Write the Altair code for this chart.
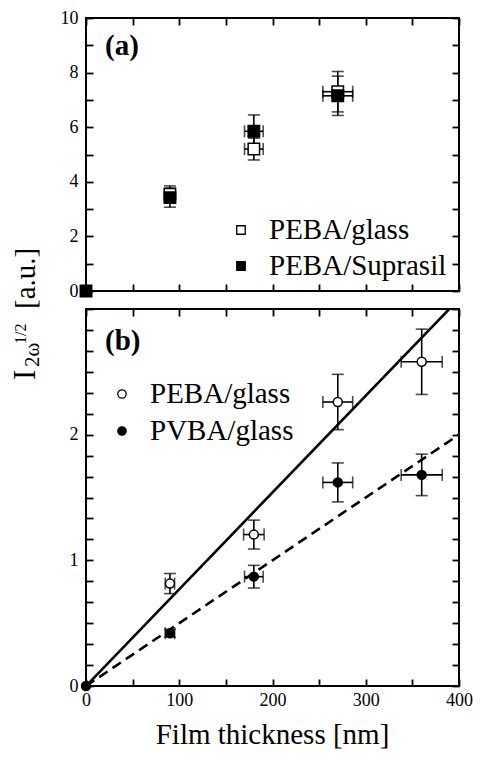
import altair as alt
import pandas as pd

# ---------------- data ----------------
# Panel (a)
a_glass_x = [90, 180, 270]
a_glass_y = [3.55, 5.2, 7.3]
a_glass_xerr = [5, 10, 16]
a_glass_yerr = [0.3, 0.4, 0.74]

a_supra_x = [0, 90, 180, 270]
a_supra_y = [0, 3.42, 5.85, 7.15]
a_supra_xerr = [0, 5, 10, 16]
a_supra_yerr = [0, 0.35, 0.6, 0.72]

a_legend = ["PEBA/glass", "PEBA/Suprasil"]

# Panel (b)
b_peba_x = [90, 180, 270, 360]
b_peba_y = [0.815, 1.205, 2.26, 2.58]
b_peba_xerr = [5, 11, 16, 22]
b_peba_yerr = [0.08, 0.115, 0.22, 0.26]

b_pvba_x = [0, 90, 180, 270, 360]
b_pvba_y = [0, 0.42, 0.87, 1.62, 1.68]
b_pvba_xerr = [0, 5, 10, 16, 22]
b_pvba_yerr = [0, 0.03, 0.09, 0.155, 0.165]

b_legend = ["PEBA/glass", "PVBA/glass"]

fit_x = [0, 400]
fit_peba_y = [0, 3.08]
fit_pvba_y = [0, 2.0]

x_ticks = [0, 50, 100, 150, 200, 250, 300, 350, 400]
a_y_ticks = [0, 1, 2, 3, 4, 5, 6, 7, 8, 9, 10]
b_y_ticks = [k / 6 for k in range(19)]

x_title = "Film thickness [nm]"

FONT = "Liberation Serif"
W = 373
HA = 273
HB = 377
LW = 1.6
TICK = 7


def frame(x, y, xerr, yerr):
    return pd.DataFrame({
        "x": x, "y": y,
        "xlo": [a - b for a, b in zip(x, xerr)],
        "xhi": [a + b for a, b in zip(x, xerr)],
        "ylo": [a - b for a, b in zip(y, yerr)],
        "yhi": [a + b for a, b in zip(y, yerr)],
        "xe": xerr, "ye": yerr,
    })


def panel_layers(df, xscale, yscale):
    X = lambda f: alt.X(f, type="quantitative", scale=xscale, axis=None)
    Y = lambda f: alt.Y(f, type="quantitative", scale=yscale, axis=None)
    err = alt.Chart(df).transform_filter("datum.ye > 0")
    return [
        err.mark_rule(color="black", strokeWidth=LW).encode(x=X("x"), y=Y("ylo"), y2="yhi"),
        err.mark_tick(orient="horizontal", color="black", size=12, thickness=LW).encode(x=X("x"), y=Y("ylo")),
        err.mark_tick(orient="horizontal", color="black", size=12, thickness=LW).encode(x=X("x"), y=Y("yhi")),
        err.mark_rule(color="black", strokeWidth=LW).encode(x=X("xlo"), x2="xhi", y=Y("y")),
        err.mark_tick(orient="vertical", color="black", size=12, thickness=LW).encode(x=X("xlo"), y=Y("y")),
        err.mark_tick(orient="vertical", color="black", size=12, thickness=LW).encode(x=X("xhi"), y=Y("y")),
    ]


def markers(df, xscale, yscale, filled, shape, size):
    X = lambda f: alt.X(f, type="quantitative", scale=xscale, axis=None)
    Y = lambda f: alt.Y(f, type="quantitative", scale=yscale, axis=None)
    return alt.Chart(df).mark_point(
        shape=shape, filled=True, size=size,
        fill="black" if filled else "white", stroke="black", strokeWidth=1.5, opacity=1,
    ).encode(x=X("x"), y=Y("y"))


def axes(df, xscale, yscale, yvals, ylabelexpr, xlabels):
    ax_common = dict(domain=False, grid=False, tickSize=TICK, offset=-TICK, title=None,
                     labelOverlap=False, labelFlush=False, tickColor="black", tickWidth=1.8,
                     labelFont=FONT, labelFontSize=18, labelColor="black",
                     minExtent=0, maxExtent=60)
    left_bottom = alt.Chart(df).mark_point(opacity=0).encode(
        x=alt.X("x:Q", scale=xscale, axis=alt.Axis(orient="bottom", values=x_ticks,
                labels=xlabels, labelExpr="datum.value % 100 == 0 ? datum.label : ''",
                labelPadding=5, **ax_common)),
        y=alt.Y("y:Q", scale=yscale, axis=alt.Axis(orient="left", values=yvals,
                labelExpr=ylabelexpr, labelPadding=8, **ax_common)),
    )
    top_right = alt.Chart(df).mark_point(opacity=0).encode(
        x=alt.X("x:Q", scale=xscale, axis=alt.Axis(orient="top", values=x_ticks,
                labels=False, **ax_common)),
        y=alt.Y("y:Q", scale=yscale, axis=alt.Axis(orient="right", values=yvals,
                labels=False, **ax_common)),
    )
    return [left_bottom, top_right]


one = pd.DataFrame({"k": [0]})


def label(text, x, y, size=29, weight="normal", align="left", baseline="middle", angle=0):
    kw = dict(align=align, baseline=baseline, font=FONT, fontSize=size,
              fontWeight=weight, color="black", text=text)
    if angle:
        kw["angle"] = angle
    return alt.Chart(one).mark_text(**kw).encode(x=alt.value(x), y=alt.value(y))


def legend_marker(x, y, shape, filled, size):
    return alt.Chart(one).mark_point(
        shape=shape, filled=True, size=size, opacity=1,
        fill="black" if filled else "white", stroke="black", strokeWidth=1.3,
    ).encode(x=alt.value(x), y=alt.value(y))


xscale = alt.Scale(domain=[0, 400], nice=False, zero=False)
view = alt.ViewBackground(stroke="black", strokeWidth=2)

# ---------------- panel (a) ----------------
ya = alt.Scale(domain=[0, 10], nice=False, zero=False)
dfa_g = frame(a_glass_x, a_glass_y, a_glass_xerr, a_glass_yerr)
dfa_s = frame(a_supra_x, a_supra_y, a_supra_xerr, a_supra_yerr)

layers_a = (
    axes(dfa_s, xscale, ya, a_y_ticks, "datum.value % 2 == 0 ? datum.label : ''", False)
    + panel_layers(dfa_g, xscale, ya)
    + panel_layers(dfa_s, xscale, ya)
    + [markers(dfa_g, xscale, ya, False, "square", 130),
       markers(dfa_s, xscale, ya, True, "square", 130),
       label("(a)", 19, 37, size=29, weight="bold", baseline="alphabetic"),
       legend_marker(155, 212, "square", False, 72),
       legend_marker(155, 248, "square", True, 72),
       label(a_legend[0], 183, 212),
       label(a_legend[1], 183, 248)]
)
chart_a = alt.layer(*layers_a).resolve_axis(x="independent", y="independent").properties(
    width=W, height=HA, view=view)

# ---------------- panel (b) ----------------
yb = alt.Scale(domain=[0, 3], nice=False, zero=False)
dfb_p = frame(b_peba_x, b_peba_y, b_peba_xerr, b_peba_yerr)
dfb_v = frame(b_pvba_x, b_pvba_y, b_pvba_xerr, b_pvba_yerr)
fit = pd.DataFrame({"x": fit_x, "peba": fit_peba_y, "pvba": fit_pvba_y})

Xf = alt.X("x:Q", scale=xscale, axis=None)
solid = alt.Chart(fit).mark_line(color="black", strokeWidth=2.6, clip=True).encode(
    x=Xf, y=alt.Y("peba:Q", scale=yb, axis=None))
dashed = alt.Chart(fit).mark_line(color="black", strokeWidth=2.6, strokeDash=[10, 6], clip=True).encode(
    x=Xf, y=alt.Y("pvba:Q", scale=yb, axis=None))

ylab_b = ("abs(datum.value - round(datum.value)) < 0.01 && datum.value < 2.5 "
          "? format(round(datum.value), 'd') : ''")

layers_b = (
    axes(dfb_v, xscale, yb, b_y_ticks, ylab_b, True)
    + [solid, dashed]
    + panel_layers(dfb_p, xscale, yb)
    + panel_layers(dfb_v, xscale, yb)
    + [markers(dfb_p, xscale, yb, False, "circle", 80),
       markers(dfb_v, xscale, yb, True, "circle", 80),
       label("(b)", 19, 41, size=29, weight="bold", baseline="alphabetic"),
       legend_marker(36, 85, "circle", False, 70),
       legend_marker(36, 122, "circle", True, 70),
       label(b_legend[0], 64, 85),
       label(b_legend[1], 64, 122),
       label(x_title, W / 2, HB + 58, size=29, align="center", baseline="alphabetic"),
       label("I", -51.5, 71, size=31, baseline="alphabetic", angle=270),
       label("2\u03c9", -47, 58, size=21, baseline="alphabetic", angle=270),
       label("1/2", -60, 35, size=16, baseline="alphabetic", angle=270),
       label("[a.u.]", -51.5, 0, size=29, baseline="alphabetic", angle=270)]
)
chart_b = alt.layer(*layers_b).resolve_axis(x="independent", y="independent").properties(
    width=W, height=HB, view=view)

chart = alt.vconcat(chart_a, chart_b, spacing=18, bounds="flush").configure(
    padding={"left": 0, "top": 0, "right": 0, "bottom": 0}, background="white"
)

chart.save("out.html", embed_options={"renderer": "svg", "actions": False})
